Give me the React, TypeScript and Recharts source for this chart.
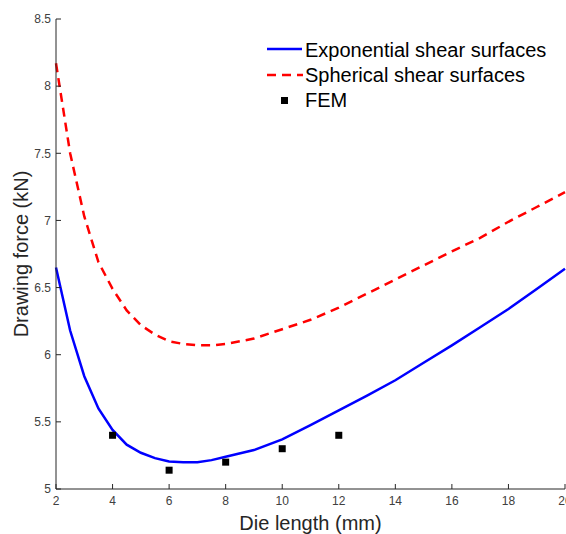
import { ComposedChart, Line, Scatter, XAxis, YAxis, Legend } from 'recharts';

const dieLength = [2, 2.5, 3, 3.5, 4, 4.5, 5, 5.5, 6, 6.5, 7, 7.5, 8, 9, 10, 11, 12, 13, 14, 15, 16, 17, 18, 19, 20];
const exponential = [6.65, 6.18, 5.84, 5.6, 5.44, 5.33, 5.27, 5.23, 5.205, 5.2, 5.2, 5.215, 5.24, 5.29, 5.37, 5.475, 5.585, 5.695, 5.81, 5.94, 6.07, 6.205, 6.34, 6.49, 6.64];
const spherical = [8.17, 7.5, 7.03, 6.69, 6.49, 6.33, 6.22, 6.15, 6.1, 6.08, 6.07, 6.07, 6.08, 6.12, 6.19, 6.26, 6.35, 6.455, 6.56, 6.665, 6.77, 6.87, 6.99, 7.1, 7.21];
const femLength = [4, 6, 8, 10, 12];
const femForce = [5.4, 5.14, 5.2, 5.3, 5.4];
const xTicks = [2, 4, 6, 8, 10, 12, 14, 16, 18, 20];
const yTicks = [5, 5.5, 6, 6.5, 7, 7.5, 8, 8.5];
const legendOrder = ['exp', 'sph', 'fem'];

const curveData = dieLength.map((x, i) => ({ x, exp: exponential[i], sph: spherical[i] }));
const femData = femLength.map((x, i) => ({ x, fem: femForce[i] }));

const font = '"Liberation Sans", Arial, sans-serif';
const axisColor = '#262626';
const tickColor = '#404040';

// ticks point inward, like a MATLAB box
const BottomTick = ({ x, y, payload }: any) => (
  <g>
    <line x1={x} x2={x} y1={y} y2={y - 5} stroke={axisColor} />
    <text x={x} y={y + 16} textAnchor="middle" fontSize={12} fontFamily={font} fill={tickColor}>
      {payload.value}
    </text>
  </g>
);
const TopTick = ({ x, y }: any) => <line x1={x} x2={x} y1={y} y2={y + 5} stroke={axisColor} />;
const LeftTick = ({ x, y, payload }: any) => (
  <g>
    <line x1={x} x2={x + 5} y1={y} y2={y} stroke={axisColor} />
    <text x={x - 5} y={y + 4.3} textAnchor="end" fontSize={12} fontFamily={font} fill={tickColor}>
      {payload.value}
    </text>
  </g>
);
const RightTick = ({ x, y }: any) => <line x1={x} x2={x - 5} y1={y} y2={y} stroke={axisColor} />;

const LegendBox = ({ payload }: any) => {
  const items = [...(payload || [])].sort(
    (a: any, b: any) => legendOrder.indexOf(a.dataKey) - legendOrder.indexOf(b.dataKey)
  );
  return (
    <div style={{ fontFamily: font, fontSize: 20, color: '#000' }}>
      {items.map((entry: any) => (
        <div key={entry.value} style={{ display: 'flex', alignItems: 'center', height: 25 }}>
          <svg width={38} height={25}>
            {entry.dataKey === 'exp' && <line x1={0} x2={35} y1={11} y2={11} stroke="#0000ff" strokeWidth={2.5} />}
            {entry.dataKey === 'sph' && (
              <line x1={0} x2={36} y1={12} y2={12} stroke="#ff0000" strokeWidth={2.5} strokeDasharray="9 6" />
            )}
            {entry.dataKey === 'fem' && <rect x={14} y={9} width={7} height={7} fill="#000" />}
          </svg>
          <span>{entry.value}</span>
        </div>
      ))}
    </div>
  );
};

export default function App() {
  return (
    <div style={{ position: 'absolute', left: 0, top: 0, background: '#fff' }}>
      <ComposedChart width={566} height={534} data={curveData} margin={{ top: 19, right: 1, bottom: 0, left: 0 }}>
        <XAxis
          dataKey="x"
          type="number"
          domain={[2, 20]}
          ticks={xTicks}
          interval={0}
          height={45}
          tickSize={0}
          tickMargin={0}
          tick={<BottomTick />}
          stroke={axisColor}
          label={{ value: 'Die length (mm)', position: 'insideBottom', offset: 4, fill: axisColor, fontSize: 20, fontFamily: font }}
        />
        <XAxis
          xAxisId="top"
          orientation="top"
          dataKey="x"
          type="number"
          domain={[2, 20]}
          ticks={xTicks}
          interval={0}
          height={0}
          tickSize={0}
          tickMargin={0}
          tick={<TopTick />}
          stroke={axisColor}
        />
        <YAxis
          type="number"
          domain={[5, 8.5]}
          ticks={yTicks}
          interval={0}
          width={56}
          tickSize={0}
          tickMargin={0}
          tick={<LeftTick />}
          stroke={axisColor}
          label={{
            value: 'Drawing force (kN)',
            angle: -90,
            position: 'insideLeft',
            offset: 21,
            fill: axisColor,
            fontSize: 20,
            fontFamily: font,
            style: { textAnchor: 'middle' },
          }}
        />
        <YAxis
          yAxisId="right"
          orientation="right"
          type="number"
          domain={[5, 8.5]}
          ticks={yTicks}
          interval={0}
          width={0}
          tickSize={0}
          tickMargin={0}
          tick={<RightTick />}
          stroke={axisColor}
        />
        <Legend
          layout="vertical"
          align="center"
          verticalAlign="middle"
          wrapperStyle={{ left: 267, top: 38, width: 300 }}
          content={<LegendBox />}
        />
        <Line
          dataKey="exp"
          name="Exponential shear surfaces"
          type="linear"
          stroke="#0000ff"
          strokeWidth={2.5}
          dot={false}
          activeDot={false}
          isAnimationActive={false}
        />
        <Line
          dataKey="sph"
          name="Spherical shear surfaces"
          type="linear"
          stroke="#ff0000"
          strokeWidth={2.5}
          strokeDasharray="9 6"
          dot={false}
          activeDot={false}
          isAnimationActive={false}
        />
        <Scatter
          data={femData}
          dataKey="fem"
          name="FEM"
          fill="#000"
          legendType="square"
          isAnimationActive={false}
          shape={(p: any) => <rect x={p.cx - 3.5} y={p.cy - 3.5} width={7} height={7} fill="#000" />}
        />
      </ComposedChart>
    </div>
  );
}
